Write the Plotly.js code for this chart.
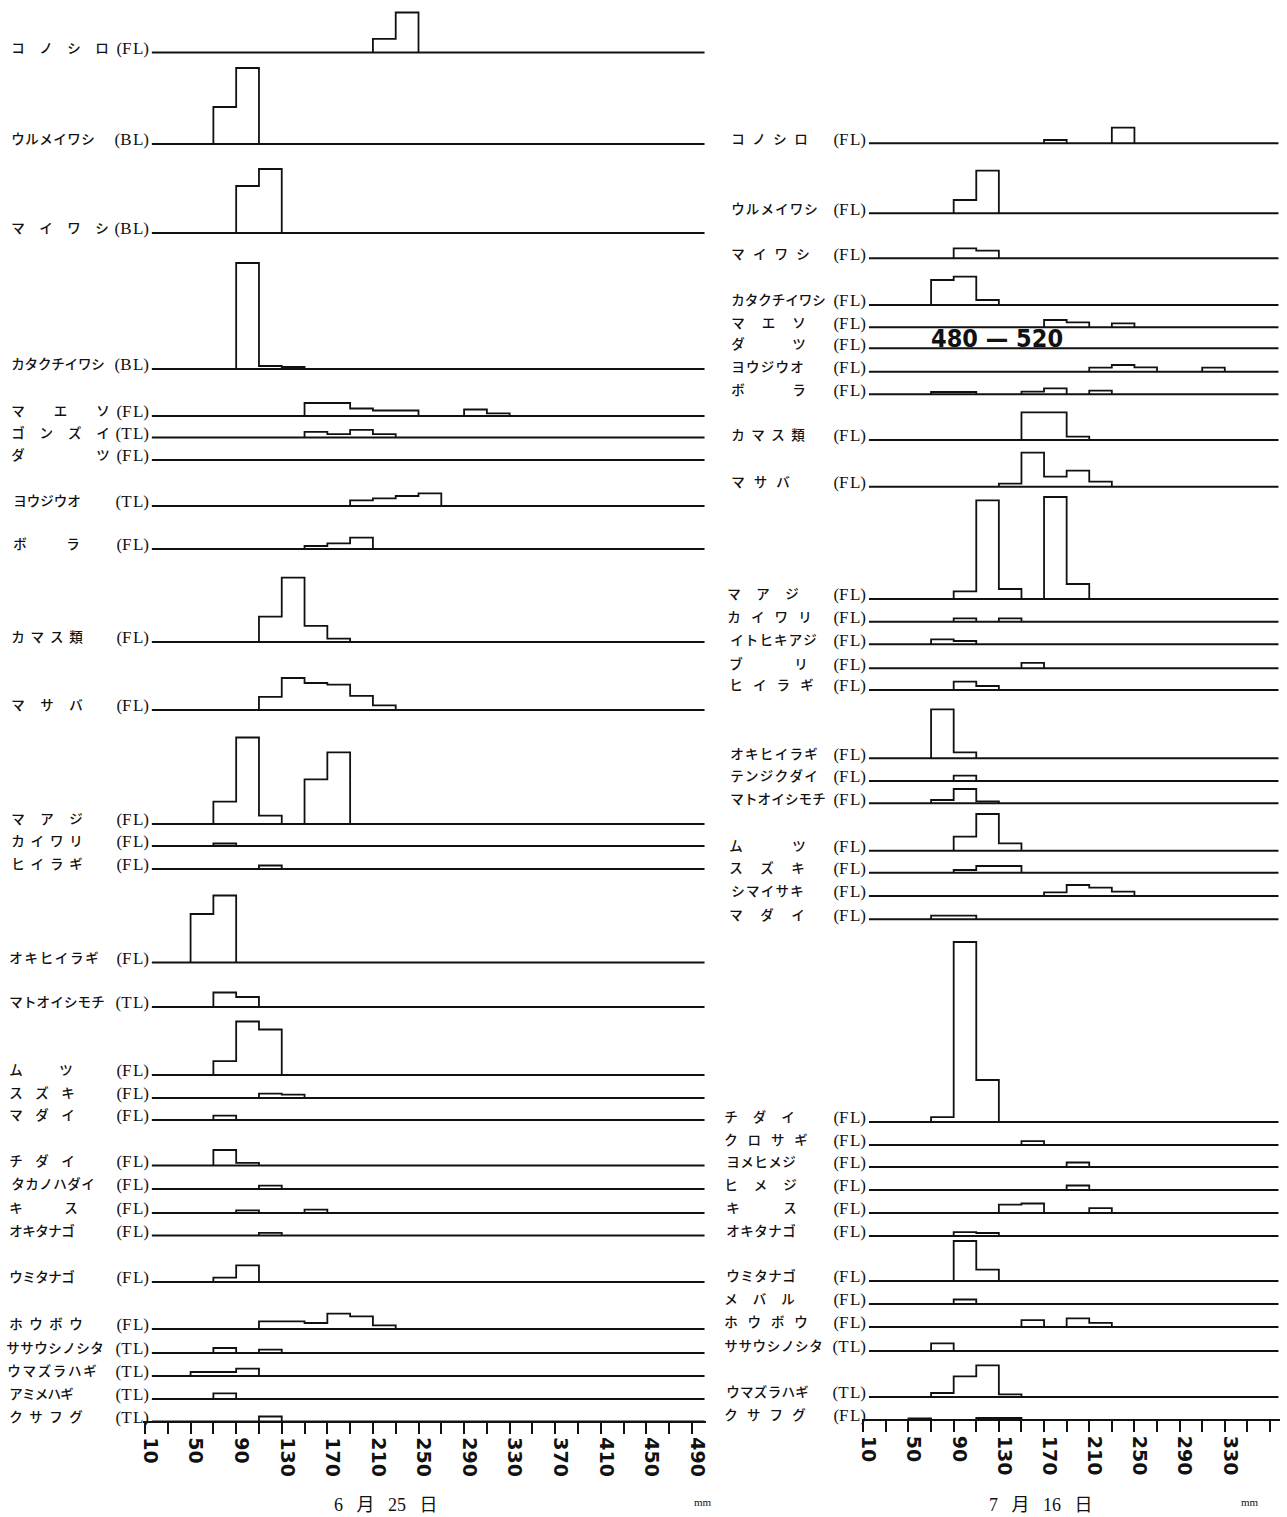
<!DOCTYPE html>
<html>
<head>
<meta charset="utf-8">
<script src="https://cdn.plot.ly/plotly-3.0.1.min.js"></script>
<style>
  html, body { margin: 0; padding: 0; background: #fff; }
  #chart { width: 1287px; height: 1517px; }
</style>
</head>
<body>
<div id="chart"></div>
<script>
// ---------- 6月25日 : length-frequency per species (20 mm classes) ----------
const juneSpecies = ['コノシロ','ウルメイワシ','マイワシ','カタクチイワシ','マエソ','ゴンズイ','ダツ','ヨウジウオ','ボラ',
  'カマス類','マサバ','マアジ','カイワリ','ヒイラギ','オキヒイラギ','マトオイシモチ','ムツ','スズキ','マダイ','チダイ',
  'タカノハダイ','キス','オキタナゴ','ウミタナゴ','ホウボウ','ササウシノシタ','ウマズラハギ','アミメハギ','クサフグ'];
const juneMeasure = ['FL','BL','BL','BL','FL','TL','FL','TL','FL','FL','FL','FL','FL','FL','FL','TL','FL','FL','FL','FL',
  'FL','FL','FL','FL','FL','TL','TL','TL','TL'];
// lower edge (mm) of each occupied class
const juneClassLow = [
  [210,230],[70,90],[90,110],[90,110,130],[150,170,190,210,230,290,310],[150,170,190,210],[],[190,210,230,250],[150,170,190],
  [110,130,150,170],[110,130,150,170,190,210],[70,90,110,150,170],[70],[110],[50,70],[70,90],[70,90,110],[110,130],[70],[70,90],
  [110],[90,150],[110],[70,90],[110,130,150,170,190,210],[70,110],[50,70,90],[70],[110]];
// relative frequency of each class
const juneFreq = [
  [13.7,40],[37,76],[47,64],[106,3,2],[13,13,7.5,5.5,5.5,6.5,2.7],[5.7,3.3,7.7,3.3],[],[5.7,7.7,10,12.7],[3,5.7,11.3],
  [25.4,64.4,16.2,3.3],[13.2,32,27,25.4,14.2,4.6],[22.4,86.5,8.3,44.6,71.6],[2.5],[3.5],[48.5,67],[14.5,10],[13.9,53.5,45.5],[4.3,3.3],[4.3],[15.5,2.6],
  [3.3],[2.7,3.3],[2.7],[4.3,16.7],[7.7,7.7,6,15.3,12.7,3.7],[5,3.3],[4,4,7.3],[5.7],[5]];

// ---------- 7月16日 ----------
const julySpecies = ['コノシロ','ウルメイワシ','マイワシ','カタクチイワシ','マエソ','ダツ','ヨウジウオ','ボラ','カマス類','マサバ',
  'マアジ','カイワリ','イトヒキアジ','ブリ','ヒイラギ','オキヒイラギ','テンジクダイ','マトオイシモチ','ムツ','スズキ','シマイサキ','マダイ',
  'チダイ','クロサギ','ヨメヒメジ','ヒメジ','キス','オキタナゴ','ウミタナゴ','メバル','ホウボウ','ササウシノシタ','ウマズラハギ','クサフグ'];
const julyMeasure = ['FL','FL','FL','FL','FL','FL','FL','FL','FL','FL',
  'FL','FL','FL','FL','FL','FL','FL','FL','FL','FL','FL','FL',
  'FL','FL','FL','FL','FL','FL','FL','FL','FL','TL','TL','FL'];
const julyClassLow = [
  [170,230],[90,110],[90,110],[70,90,110],[170,190,230],[],[210,230,250,310],[70,90,150,170,210],[150,170,190],[130,150,170,190,210],
  [90,110,130,170,190],[90,130],[70,90],[150],[90,110],[70,90],[90],[70,90,110],[90,110,130],[90,110,130],[170,190,210,230],[70,90],
  [70,90,110],[150],[190],[190],[130,150,210],[90,110],[90,110],[90],[150,190,210],[70],[70,90,110,130],[50,110,130]];
const julyFreq = [
  [3.3,15.7],[13.3,42.7],[10,7.7],[25,28.3,5],[7.3,5,4],[],[4,6.7,4.3,4],[2.3,2.3,2.7,6,3.7],[27.7,27.7,3.3],[3,34,10,16,5],
  [7.7,98.7,10,102,15],[3.3,3.3],[5,3.3],[5.5],[8.3,4],[49,6],[5.3],[3.3,14.3,2],[14,36.7,7.3],[2.7,6.7,6.7],[3.7,11,8.3,4.3],[3.7,3.7],
  [4.9,180,42],[3.8],[4.5],[4.5],[8.3,9.5,4.9],[3.8,3],[40,11.3],[4.5],[6.8,8.6,4.1],[7.7],[4,20.7,31.7,2.7],[1.7,2,2]];
const julyDatsuNote = '480 — 520';

// axis tick labels (mm)
const juneTicks = [10,50,90,130,170,210,250,290,330,370,410,450,490];
const julyTicks = [10,50,90,130,170,210,250,290,330];
const CLASS_WIDTH = 20;

// ---------- page layout (pixels) ----------
const W = 1287, H = 1517;
const juneRowY = [52.5,144,233,369,416,437.5,460,506,549,642,710,824,846,869,962.5,1007,1075,1098,1120,1165.5,
  1189,1213,1235.5,1282,1329,1353,1376,1399,1421.5];
const juneNameSpan = [[18,102],[18,88],[18,102],[18,98],[18,103],[18,103],[18,103],[20,74],[20,73],
  [18,76],[18,76],[18,76],[18,76],[18,76],[16,92],[16,98],[16,66],[16,68],[16,68],[16,68],
  [18,88],[16,71],[16,68],[16,68],[16,76],[13,97],[14,90],[16,67],[16,76]];
const julyRowY = [143.3,213.3,258.3,305,327.3,348.3,371.7,394.3,440,486.7,
  599,621.7,644.3,668.3,690,758.3,781,803.3,850.7,872.7,896,919.3,
  1122,1145,1167,1190,1213,1236,1281,1304,1327,1351,1397,1420];
const julyNameSpan = [[738,801],[738,811],[738,803],[738,819],[738,799],[738,799],[738,797],[738,799],[738,798],[738,783],
  [734,792],[734,805],[737,810],[736,801],[736,807],[737,811],[737,811],[737,819],[736,799],[736,798],[738,797],[736,798],
  [731,788],[731,801],[733,789],[731,790],[733,790],[733,789],[733,789],[731,788],[731,801],[731,816],[733,802],[731,799]];

const INK = '#111111';

const panels = [
  { species: juneSpecies, measure: juneMeasure, low: juneClassLow, freq: juneFreq, rowY: juneRowY, span: juneNameSpan,
    xaxis: 'x', measureRight: 149, zeroPx: 145, pxPerMm: 1.1396, axisPx: [143, 706], baseMm: [16, 501] },
  { species: julySpecies, measure: julyMeasure, low: julyClassLow, freq: julyFreq, rowY: julyRowY, span: julyNameSpan,
    xaxis: 'x2', measureRight: 866, zeroPx: 863.3, pxPerMm: 1.1297, axisPx: [862, 1280], baseMm: [15, 377.5] }
];

// outline of one histogram: steps over contiguous classes, back to the baseline between blocks
function outline(lows, freqs, base) {
  const xs = [], ys = [];
  let prevHi = null;
  lows.forEach((lo, i) => {
    const top = base - freqs[i];
    if (prevHi !== lo) {
      if (prevHi !== null) { xs.push(prevHi, null); ys.push(base, null); }
      xs.push(lo); ys.push(base);
    }
    xs.push(lo, lo + CLASS_WIDTH); ys.push(top, top);
    prevHi = lo + CLASS_WIDTH;
  });
  if (prevHi !== null) { xs.push(prevHi, null); ys.push(base, null); }
  return { xs, ys };
}

const traces = [];
const nameX = [], nameY = [], nameT = [];
const measX = [], measY = [], measT = [];

panels.forEach(p => {
  const bx = [], by = [], hx = [], hy = [];
  p.species.forEach((name, r) => {
    const base = p.rowY[r];
    bx.push(p.baseMm[0], p.baseMm[1], null); by.push(base, base, null);
    const o = outline(p.low[r], p.freq[r], base);
    hx.push(...o.xs); hy.push(...o.ys);
    // species name, characters spread over the label column
    const chars = Array.from(name);
    const [a, b] = p.span[r];
    chars.forEach((c, i) => {
      nameX.push(chars.length > 1 ? a + (b - a) * i / (chars.length - 1) : a);
      nameY.push(base - 3);
      nameT.push(c);
    });
    measX.push(p.measureRight); measY.push(base - 3);
    measT.push('(' + p.measure[r].split('').join('\u200a') + ')');
  });
  traces.push({ type: 'scatter', mode: 'lines', x: bx, y: by, xaxis: p.xaxis, yaxis: 'y',
    line: { color: INK, width: 2 }, hoverinfo: 'skip', showlegend: false });
  traces.push({ type: 'scatter', mode: 'lines', x: hx, y: hy, xaxis: p.xaxis, yaxis: 'y',
    line: { color: INK, width: 1.8 }, hoverinfo: 'skip', showlegend: false, cliponaxis: false });
});

traces.push({ type: 'scatter', mode: 'text', x: nameX, y: nameY, text: nameT, xaxis: 'x3', yaxis: 'y',
  textposition: 'middle center', textfont: { family: 'Noto Sans CJK JP', size: 13.5, weight: 500, color: INK },
  hoverinfo: 'skip', showlegend: false, cliponaxis: false });
traces.push({ type: 'scatter', mode: 'text', x: measX, y: measY, text: measT, xaxis: 'x3', yaxis: 'y',
  textposition: 'middle left', textfont: { family: 'Liberation Serif', size: 17, color: INK },
  hoverinfo: 'skip', showlegend: false, cliponaxis: false });

function mmAxis(p, ticks, axisY) {
  const lo = 10 + (p.axisPx[0] - p.zeroPx) / p.pxPerMm;
  const hi = 10 + (p.axisPx[1] - p.zeroPx) / p.pxPerMm;
  return {
    domain: [p.axisPx[0] / W, p.axisPx[1] / W],
    range: [lo, hi], autorange: false, fixedrange: true,
    anchor: 'free', position: 1 - axisY / H,
    showline: true, linecolor: INK, linewidth: 2,
    showgrid: false, zeroline: false,
    tickmode: 'array', tickvals: ticks, ticktext: ticks.map(String),
    ticks: 'outside', ticklen: 11, tickwidth: 2, tickcolor: INK,
    tickangle: 90, ticklabelshift: 5,
    tickfont: { family: 'DejaVu Sans', size: 19, weight: 'bold', color: INK },
    minor: { tickmode: 'linear', tick0: 10, dtick: 20, ticks: 'outside', ticklen: 11, tickwidth: 2, tickcolor: INK, showgrid: false },
    automargin: false
  };
}

const layout = {
  width: W, height: H,
  margin: { l: 0, r: 0, t: 0, b: 0, pad: 0 },
  paper_bgcolor: '#fff', plot_bgcolor: 'rgba(0,0,0,0)',
  showlegend: false,
  xaxis: mmAxis(panels[0], juneTicks, 1421.5),
  xaxis2: mmAxis(panels[1], julyTicks, 1420),
  xaxis3: { domain: [0, 1], range: [0, W], visible: false, fixedrange: true, anchor: 'y' },
  yaxis: { domain: [0, 1], range: [H, 0], autorange: false, visible: false, fixedrange: true },
  annotations: [
    { text: julyDatsuNote, xref: 'paper', yref: 'paper', x: 997 / W, y: 1 - 339 / H,
      xanchor: 'center', yanchor: 'middle', showarrow: false,
      font: { family: 'Liberation Sans Narrow, DejaVu Sans Condensed, Liberation Sans', size: 25, weight: 'bold', color: INK } },
    { text: '6\u2002 月\u2002 25\u2002 日', xref: 'paper', yref: 'paper', x: 386 / W, y: 1 - 1505 / H,
      xanchor: 'center', yanchor: 'middle', showarrow: false,
      font: { family: 'Liberation Serif, Noto Sans CJK JP', size: 18, color: INK } },
    { text: '7\u2002 月\u2002 16\u2002 日', xref: 'paper', yref: 'paper', x: 1041 / W, y: 1 - 1505 / H,
      xanchor: 'center', yanchor: 'middle', showarrow: false,
      font: { family: 'Liberation Serif, Noto Sans CJK JP', size: 18, color: INK } },
    { text: 'mm', xref: 'paper', yref: 'paper', x: 703 / W, y: 1 - 1502 / H,
      xanchor: 'center', yanchor: 'middle', showarrow: false,
      font: { family: 'Liberation Serif', size: 11, color: INK } },
    { text: 'mm', xref: 'paper', yref: 'paper', x: 1250 / W, y: 1 - 1502 / H,
      xanchor: 'center', yanchor: 'middle', showarrow: false,
      font: { family: 'Liberation Serif', size: 11, color: INK } }
  ]
};

Plotly.newPlot('chart', traces, layout, { staticPlot: true, displayModeBar: false });
</script>
</body>
</html>
